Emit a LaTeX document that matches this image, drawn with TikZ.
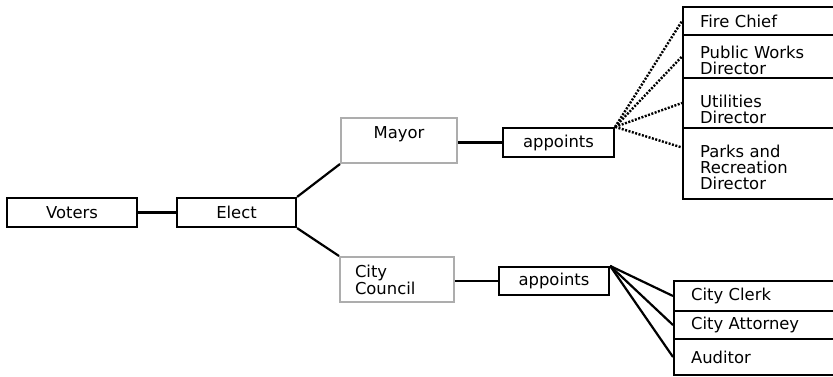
\documentclass[tikz,border=0pt]{standalone}
\usepackage{fontspec}
\setmainfont{DejaVu Sans}

\begin{document}
\begin{tikzpicture}[x=1pt, y=-1pt,
    box/.style={draw, line width=2.2pt, minimum height=29pt, inner sep=0pt,
      font=\fontsize{16.4}{16}\selectfont},
    greybox/.style={draw=black!32, line width=2pt, inner sep=0pt,
      font=\fontsize{16.4}{15}\selectfont},
    post/.style={box, anchor=west, align=left, inner xsep=17pt, text width=118pt},
    link/.style={line width=2.2pt},
    dots/.style={line width=2.4pt, dash pattern=on 2pt off 1.5pt}]
    \useasboundingbox (0, 0) rectangle (833, 377);

    \node [box, minimum width=130pt] (voters) at (72, 212.5) {Voters};
    \node [box, minimum width=119pt] (elect) at (236.5, 212.5) {Elect};

    \node [greybox, minimum width=116pt, text height=13pt, text depth=16pt,
      inner ysep=8pt] (mayor) at (399, 140.5) {Mayor};
    \node [greybox, minimum height=45pt, inner xsep=15pt, text width=84pt,
      align=left] (council) at (397, 279.5) {City\\Council};

    \node [box, minimum width=111pt] (mayorapp) at (558.5, 142.5) {appoints};
    \node [box, minimum width=110pt, minimum height=28pt] (councilapp) at (554, 281) {appoints};

    \node [post, minimum height=28pt, text height=20pt, text depth=6pt] (firechief) at (682, 21) {Fire Chief};
    \node [post, minimum height=43pt, text height=22.5pt, text depth=17.5pt] (works) at (682, 56.5) {Public Works\\Director};
    \node [post, minimum height=50pt, text height=29pt, text depth=19pt] (utilities) at (682, 103) {Utilities\\Director};
    \node [post, minimum height=71pt, text height=29pt, text depth=40pt] (parks) at (682, 163.5) {Parks and\\Recreation\\Director};

    \node [post, text width=127pt, minimum height=30pt] (clerk) at (673, 296) {City Clerk};
    \node [post, text width=127pt, minimum height=28pt] (attorney) at (673, 325) {City Attorney};
    \node [post, text width=127pt, minimum height=36pt] (auditor) at (673, 357) {Auditor};

    \draw [link] (voters) -- (elect);
    \draw [link] (elect.north east) -- (mayor.south west);
    \draw [link] (elect.south east) -- (council.north west);
    \draw [link] (mayor.east |- mayorapp) -- (mayorapp);
    \draw [link] (council.east |- councilapp) -- (councilapp);

    \foreach \post in {firechief, works, utilities} {
      \draw [dots] (mayorapp.north east) -- (\post.west);
    }
    \draw [dots] (mayorapp.north east) -- ([yshift=16pt]parks.west);
    \foreach \post in {clerk, attorney, auditor} {
      \draw [link] (councilapp.north east) -- (\post.west);
    }
  \end{tikzpicture}
\end{document}
